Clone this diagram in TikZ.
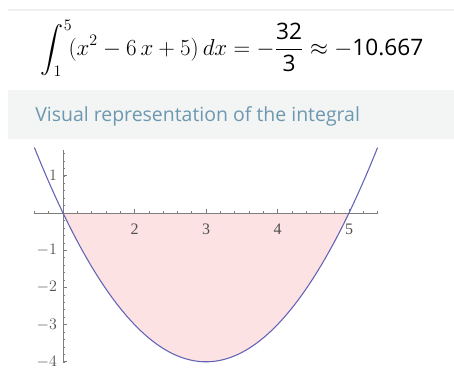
\documentclass[tikz,border=0pt]{standalone}
\usepackage{amsmath}
\usepackage{fontspec}
\setmainfont{Liberation Serif}
\newfontfamily\uisans{Open Sans}
\usetikzlibrary{calc}
\definecolor{curveblue}{RGB}{98,98,182}
\definecolor{areapink}{RGB}{253,226,228}
\definecolor{bandgray}{RGB}{243,244,244}
\definecolor{titleblue}{RGB}{108,152,176}
\definecolor{axisgray}{RGB}{125,125,125}
\definecolor{labelgray}{RGB}{80,80,80}

\begin{document}
\begin{tikzpicture}[x=0.75pt,y=0.75pt]
        \useasboundingbox(0,0)rectangle(454,381);
        % header
        \path[draw=black!6, line width=1.2pt](8,371)to(454,371);
        \path[fill=bandgray](8,242)rectangle(454,291);
        \node[inner sep=0pt](eq)at(232,333){\fontsize{17}{20}\selectfont$\displaystyle\int_1^5\!(x^2-6\,x+5)\,dx=-\frac{\text{\uisans 32}}{\text{\uisans 3}}\approx-\text{\uisans 10.667}$};
        \node[anchor=base west, inner sep=0pt, text=titleblue](title)at(35,259){\uisans\fontsize{14.6}{16}\selectfont Visual representation of the integral};
        % plot
        \begin{scope}[shift={(-8.5,168)}, x=53.625pt, y=27.9pt]
            \coordinate(O)at(1,0);
            \coordinate(t0)at(0.594,0);
            \coordinate(t)at(5.405,0);
            \coordinate(y0)at(1,-4.03);
            \coordinate(y)at(1,1.69);
            % area
            \path[fill=areapink]plot[domain=1:5, samples=80]({\x},{\x*\x-6*\x+5})--cycle;
            % axis
            \path[draw=axisgray, line width=0.5pt](t0)to(t);
            \path[draw=axisgray, line width=0.5pt](y0)to(y);
            \foreach \i in {3,...,27}
            {
                \path[draw=axisgray, line width=0.35pt]({\i/5},0)to++(0,1.6pt);
            }
            \foreach \i in {-20,...,8}
            {
                \path[draw=axisgray, line width=0.35pt](1,{\i/5})to++(1.6pt,0);
            }
            \foreach \i in {2,3,4,5}
            {
                \path[draw=axisgray, line width=0.45pt](\i,0)to++(0,3pt);
                \node[text=labelgray, font=\fontsize{12}{13}\selectfont](xl\i)at(\i,-0.43){\i};
            }
            \foreach \j in {-4,-3,-2,-1,1}
            {
                \path[draw=axisgray, line width=0.45pt](1,\j)to++(3pt,0);
                \node[text=labelgray, font=\fontsize{12}{13}\selectfont, anchor=east, inner sep=0pt](yl\j)at(0.92,\j){$\j$};
            }
            % curve
            \path[draw=curveblue, line width=0.8pt]plot[domain=0.6:5.4, samples=100]({\x},{\x*\x-6*\x+5});
        \end{scope}
    \end{tikzpicture}
\end{document}
